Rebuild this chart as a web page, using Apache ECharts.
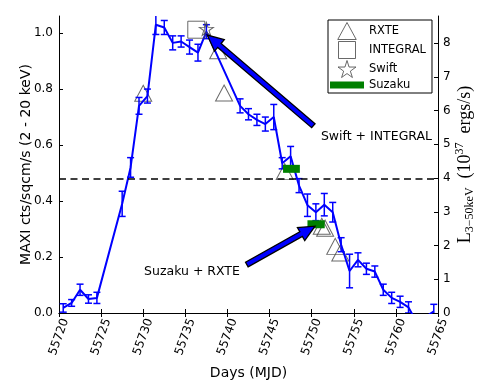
<!DOCTYPE html>
<html>
<head>
<meta charset="utf-8">
<script src="https://cdn.jsdelivr.net/npm/echarts@6/dist/echarts.min.js"></script>
<style>
  html, body { margin: 0; padding: 0; background: #fff; }
  #chart { width: 491px; height: 388px; }
</style>
</head>
<body>
<div id="chart"></div>
<script>
// MAXI light curve (2-20 keV)
const days = [55720.5, 55721.5, 55722.5, 55723.5, 55724.5, 55727.5, 55728.5, 55729.5, 55730.5, 55731.5,
  55732.5, 55733.5, 55734.5, 55735.5, 55736.5, 55737.5, 55741.5, 55742.5, 55743.5, 55744.5,
  55745.5, 55746.5, 55747.5, 55748.5, 55749.5, 55750.5, 55751.5, 55752.5, 55753.5, 55754.5,
  55755.5, 55756.5, 55757.5, 55758.5, 55759.5, 55760.5, 55761.5, 55762.5, 55764.5]
const maxiRate = [0.018, 0.036, 0.083, 0.05, 0.054, 0.39, 0.52, 0.74, 0.775, 1.03,
  1.02, 0.965, 0.97, 0.95, 0.93, 1.005, 0.74, 0.71, 0.69, 0.675,
  0.70, 0.535, 0.56, 0.455, 0.385, 0.36, 0.387, 0.36, 0.244, 0.15,
  0.19, 0.158, 0.148, 0.083, 0.054, 0.04, 0.02, -0.035, 0.006]
const maxiErr = [0.015, 0.012, 0.02, 0.015, 0.02, 0.045, 0.035, 0.03, 0.025, 0.035,
  0.025, 0.025, 0.02, 0.025, 0.03, 0.025, 0.025, 0.02, 0.02, 0.025,
  0.045, 0.02, 0.035, 0.025, 0.04, 0.03, 0.04, 0.035, 0.025, 0.06,
  0.025, 0.02, 0.02, 0.02, 0.02, 0.02, 0.02, 0.02, 0.025]

// pointed observations
const rxteDays = [55730.0, 55738.9, 55739.6, 55746.8, 55751.2, 55751.6, 55752.8, 55753.4]
const rxteRate = [0.785, 0.937, 0.786, 0.505, 0.31, 0.303, 0.238, 0.214]
const integralDays = [55736.3]
const integralRate = [1.012]
const swiftDays = [55737.5]
const swiftRate = [1.015]
const suzakuStart = [55746.6, 55749.5]
const suzakuEnd = [55748.6, 55751.55]
const suzakuRate = [0.515, 0.317]

// dashed reference level
const refLevel = 0.482

// annotations: arrow tail -> head, text position
const arrowTail = [[55750.2, 0.669], [55742.3, 0.173]]
const arrowHead = [[55737.6, 0.993], [55750.4, 0.31]]
const noteText = ['Swift + INTEGRAL', 'Suzaku + RXTE']
const notePos = [[55751.1, 0.63], [55730.1, 0.148]]

// axes
const xMin = 55720, xMax = 55765, xStep = 5
const yMax = 1.061
const lumMax = 8.8

const FONT = 'DejaVu Sans'
const SERIF = 'Liberation Serif'
const BLUE = '#0000ff'
const triPath = 'path://M50,0 L100,92 L0,92 Z'
const sqPath = 'path://M0,0 H100 V100 H0 Z'
const starPath = 'path://M50,0 L61,35 L98,35 L68,57 L79,91 L50,70 L21,91 L32,57 L2,35 L39,35 Z'
const barPath = 'path://M0,0 H34 V7 H0 Z'

const chart = echarts.init(document.getElementById('chart'))

function errorBar(params, api) {
  const x = api.value(0), y = api.value(1), e = api.value(2)
  const top = api.coord([x, y + e])
  const bot = api.coord([x, y - e])
  const cap = 3.5
  const st = { stroke: BLUE, lineWidth: 1.5 }
  return {
    type: 'group',
    children: [
      { type: 'line', shape: { x1: top[0], y1: top[1], x2: bot[0], y2: bot[1] }, style: st },
      { type: 'line', shape: { x1: top[0] - cap, y1: top[1], x2: top[0] + cap, y2: top[1] }, style: st },
      { type: 'line', shape: { x1: bot[0] - cap, y1: bot[1], x2: bot[0] + cap, y2: bot[1] }, style: st },
    ],
  }
}

function suzakuBar(params, api) {
  const a = api.coord([api.value(0), api.value(2)])
  const b = api.coord([api.value(1), api.value(2)])
  const h = 8
  return {
    type: 'rect',
    shape: { x: a[0], y: a[1] - h / 2, width: b[0] - a[0], height: h },
    style: { fill: '#008000' },
  }
}

function arrow(params, api) {
  const p0 = api.coord([api.value(0), api.value(1)])
  const p1 = api.coord([api.value(2), api.value(3)])
  const dx = p1[0] - p0[0], dy = p1[1] - p0[1]
  const len = Math.sqrt(dx * dx + dy * dy)
  const ux = dx / len, uy = dy / len
  const nx = -uy, ny = ux
  const headLen = 16, headW = 7.5, shaftW = 2.6
  const bx = p1[0] - ux * headLen, by = p1[1] - uy * headLen
  const pts = [
    [p0[0] + nx * shaftW, p0[1] + ny * shaftW],
    [bx + nx * shaftW, by + ny * shaftW],
    [bx + nx * headW, by + ny * headW],
    [p1[0], p1[1]],
    [bx - nx * headW, by - ny * headW],
    [bx - nx * shaftW, by - ny * shaftW],
    [p0[0] - nx * shaftW, p0[1] - ny * shaftW],
  ]
  return {
    type: 'polygon',
    shape: { points: pts },
    style: { fill: BLUE, stroke: '#000', lineWidth: 1.3 },
  }
}

function note(params, api) {
  const p = api.coord([api.value(0), api.value(1)])
  return {
    type: 'text',
    x: p[0],
    y: p[1],
    style: {
      text: noteText[params.dataIndex],
      fontSize: 12.5,
      fontFamily: FONT,
      fill: '#000',
      align: 'left',
      verticalAlign: 'middle',
    },
  }
}

const hollow = { color: 'rgba(0,0,0,0)', borderColor: '#444', borderWidth: 1 }

const option = {
  animation: false,
  textStyle: { fontFamily: FONT },
  grid: { left: 59, right: 53, top: 16, bottom: 75 },
  legend: {
    orient: 'vertical',
    left: 328,
    top: 20,
    padding: [2, 6, 2, 2],
    itemWidth: 34,
    itemHeight: 17,
    itemGap: 1,
    borderColor: '#000',
    borderWidth: 1,
    selectedMode: false,
    textStyle: { fontSize: 11.5, color: '#000', fontFamily: FONT },
    data: [
      { name: 'RXTE', icon: triPath, itemStyle: hollow },
      { name: 'INTEGRAL', icon: sqPath, itemStyle: hollow },
      { name: 'Swift', icon: starPath, itemStyle: hollow },
      { name: 'Suzaku', icon: barPath, itemStyle: { color: '#008000', borderWidth: 0 } },
    ],
  },
  xAxis: [
    {
      type: 'value',
      min: xMin,
      max: xMax,
      interval: xStep,
      position: 'bottom',
      name: 'Days (MJD)',
      nameLocation: 'middle',
      nameGap: 53,
      nameMoveOverlap: false,
      nameTextStyle: { fontSize: 14, color: '#000', fontFamily: FONT },
      axisLine: { lineStyle: { color: '#000', width: 1 } },
      axisTick: { inside: true, length: 4, lineStyle: { color: '#000' } },
      axisLabel: {
        rotate: 70,
        align: 'center',
        verticalAlign: 'middle',
        margin: 24,
        fontSize: 12,
        color: '#000',
        fontFamily: FONT,
        formatter: (v) => String(v),
      },
      splitLine: { show: false },
    },
    {
      type: 'value',
      min: xMin,
      max: xMax,
      interval: xStep,
      position: 'top',
      axisLine: { lineStyle: { color: '#000', width: 1 } },
      axisTick: { inside: true, length: 4, lineStyle: { color: '#000' } },
      axisLabel: { show: false },
      splitLine: { show: false },
    },
  ],
  yAxis: [
    {
      type: 'value',
      min: 0,
      max: yMax,
      interval: 0.2,
      position: 'left',
      name: 'MAXI cts/sqcm/s (2 - 20 keV)',
      nameLocation: 'middle',
      nameGap: 26,
      nameMoveOverlap: false,
      nameTextStyle: { fontSize: 14, color: '#000', fontFamily: FONT },
      axisLine: { show: true, lineStyle: { color: '#000', width: 1 } },
      axisTick: { show: true, inside: true, length: 4, lineStyle: { color: '#000' } },
      axisLabel: {
        fontSize: 12,
        color: '#000',
        margin: 6,
        fontFamily: FONT,
        showMaxLabel: false,
        formatter: (v) => v.toFixed(1),
      },
      splitLine: { show: false },
    },
    {
      type: 'value',
      min: 0,
      max: lumMax,
      interval: 1,
      position: 'right',
      name: '{l|L}{sub|3\u221250keV}{n|  (10}{sup|37}{n|  ergs/s)}',
      nameLocation: 'middle',
      nameGap: 16,
      nameMoveOverlap: false,
      nameTextStyle: {
        fontFamily: SERIF,
        color: '#000',
        rich: {
          l: { fontSize: 18, lineHeight: 22, fontFamily: SERIF, color: '#000' },
          n: { fontSize: 18, lineHeight: 22, fontFamily: SERIF, color: '#000' },
          sub: { fontSize: 12, lineHeight: 12, verticalAlign: 'bottom', fontFamily: SERIF, color: '#000' },
          sup: { fontSize: 12, lineHeight: 12, verticalAlign: 'top', fontFamily: SERIF, color: '#000' },
        },
      },
      axisLine: { show: true, lineStyle: { color: '#000', width: 1 } },
      axisTick: { show: true, inside: true, length: 4, lineStyle: { color: '#000' } },
      axisLabel: {
        fontSize: 12,
        color: '#000',
        margin: 5,
        fontFamily: FONT,
        showMaxLabel: false,
        formatter: (v) => String(Math.round(v)),
      },
      splitLine: { show: false },
    },
  ],
  series: [
    {
      name: 'RXTE',
      type: 'scatter',
      symbol: triPath,
      symbolSize: [17, 16],
      itemStyle: hollow,
      z: 2,
      data: rxteDays.map((d, i) => [d, rxteRate[i]]),
    },
    {
      name: 'MAXI',
      type: 'line',
      showSymbol: false,
      lineStyle: { color: BLUE, width: 2 },
      itemStyle: { color: BLUE },
      z: 3,
      data: days.map((d, i) => [d, maxiRate[i]]),
      markLine: {
        silent: true,
        symbol: ['none', 'none'],
        label: { show: false },
        lineStyle: { color: '#000', type: [7, 4.5], width: 1.5 },
        data: [{ yAxis: refLevel }],
      },
    },
    {
      name: 'MAXI err',
      type: 'custom',
      clip: true,
      z: 3,
      renderItem: errorBar,
      data: days.map((d, i) => [d, maxiRate[i], maxiErr[i]]),
    },
    {
      name: 'Suzaku',
      type: 'custom',
      z: 4,
      itemStyle: { color: '#008000' },
      renderItem: suzakuBar,
      data: suzakuStart.map((d, i) => [d, suzakuEnd[i], suzakuRate[i]]),
    },
    {
      name: 'INTEGRAL',
      type: 'scatter',
      symbol: sqPath,
      symbolSize: [17, 17],
      itemStyle: hollow,
      z: 4,
      data: integralDays.map((d, i) => [d, integralRate[i]]),
    },
    {
      name: 'Swift',
      type: 'scatter',
      symbol: starPath,
      symbolSize: [14, 13],
      itemStyle: hollow,
      z: 4,
      data: swiftDays.map((d, i) => [d, swiftRate[i]]),
    },
    {
      name: 'arrows',
      type: 'custom',
      z: 5,
      renderItem: arrow,
      data: arrowTail.map((t, i) => [t[0], t[1], arrowHead[i][0], arrowHead[i][1]]),
    },
    {
      name: 'notes',
      type: 'custom',
      z: 5,
      renderItem: note,
      data: notePos.map((p) => [p[0], p[1]]),
    },
  ],
}

chart.setOption(option)
</script>
</body>
</html>
